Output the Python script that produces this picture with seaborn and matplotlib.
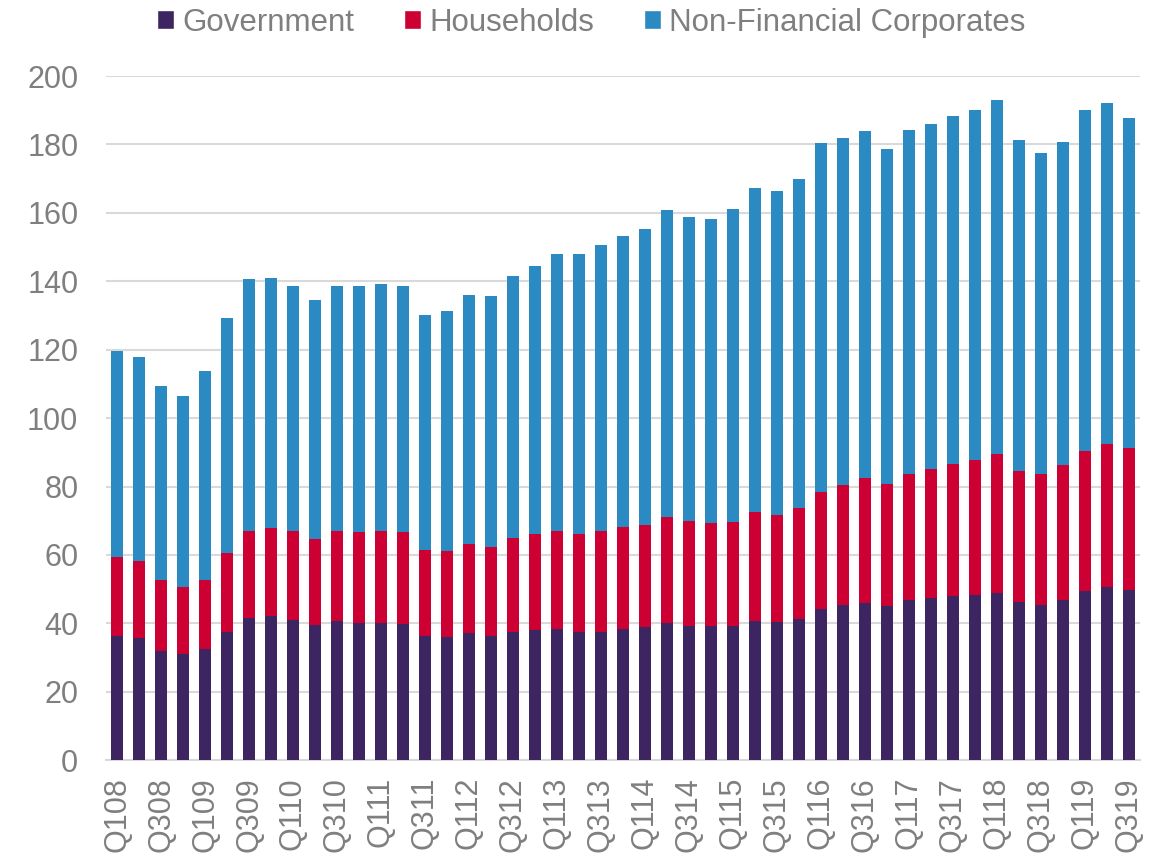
import numpy as np
import pandas as pd
import seaborn as sns
import matplotlib.pyplot as plt
from matplotlib.patches import Patch

# quarters Q1 2008 .. Q3 2019
quarters = [f'Q{q}{y:02d}' for y in range(8, 20) for q in range(1, 5)][:47]

government = [36.3, 35.7, 31.8, 31.0, 32.4, 37.5, 41.6, 42.1, 41.0, 39.5, 40.6, 40.1,
              40.1, 39.8, 36.3, 36.0, 37.2, 36.3, 37.6, 38.0, 38.3, 37.4, 37.6, 38.3,
              39.0, 40.1, 39.2, 39.1, 39.2, 40.6, 40.3, 41.2, 44.1, 45.3, 46.1, 45.0,
              46.7, 47.4, 47.9, 48.4, 48.9, 46.2, 45.3, 46.8, 49.4, 50.6, 49.7]
households = [23.0, 22.6, 20.8, 19.6, 20.2, 23.2, 25.4, 25.9, 25.9, 25.1, 26.5, 26.7,
              26.8, 26.8, 25.1, 25.3, 26.1, 26.1, 27.5, 28.1, 28.7, 28.7, 29.4, 29.8,
              29.8, 31.0, 30.7, 30.1, 30.4, 31.9, 31.4, 32.4, 34.3, 35.1, 36.4, 35.7,
              37.1, 37.7, 38.8, 39.5, 40.5, 38.4, 38.5, 39.4, 41.1, 41.8, 41.5]
non_financial = [60.2, 59.7, 56.9, 56.0, 61.1, 68.5, 73.6, 72.9, 71.7, 69.9, 71.5, 71.8,
                 72.3, 72.0, 68.8, 70.0, 72.7, 73.3, 76.4, 78.5, 81.0, 81.8, 83.6, 85.2,
                 86.6, 89.6, 88.9, 89.1, 91.6, 94.8, 94.7, 96.4, 101.9, 101.5, 101.4, 98.1,
                 100.5, 101.0, 101.5, 102.1, 103.5, 96.6, 93.7, 94.4, 99.7, 99.7, 96.4]

series = ['Government', 'Households', 'Non-Financial Corporates']
colors = ['#3C2560', '#CC0033', '#2B8AC1']

df = pd.DataFrame({'quarter': quarters, 'Government': government,
                   'Households': households, 'Non-Financial Corporates': non_financial})
# cumulative tops for stacking
df['top_gov'] = df['Government']
df['top_hh'] = df['top_gov'] + df['Households']
df['top_nfc'] = df['top_hh'] + df['Non-Financial Corporates']

sns.set_style('white')
plt.rcParams['font.family'] = ['Liberation Sans', 'DejaVu Sans']
grey = '#7F7F7F'

fig = plt.figure(figsize=(11.68, 8.59), dpi=100)
ax = fig.add_axes([0.0908, 0.115, 0.885, 0.7965])

for col, c in zip(['top_nfc', 'top_hh', 'top_gov'], colors[::-1]):
    sns.barplot(data=df, x='quarter', y=col, color=c, width=0.55,
                linewidth=0, saturation=1, ax=ax, zorder=3)

ax.set_ylim(0, 200)
ax.set_xlim(-0.5, len(quarters) - 0.5)
ax.set_yticks(range(0, 201, 20))
ax.set_xticks(range(0, len(quarters), 2))
ax.set_xticklabels(quarters[::2], rotation=90)
ax.tick_params(axis='both', labelsize=22, colors=grey, length=0)
ax.tick_params(axis='y', pad=20)
ax.tick_params(axis='x', pad=12)
ax.set_xlabel('')
ax.set_ylabel('')
ax.yaxis.grid(True, color='#D9D9D9', linewidth=1.5, zorder=0)
ax.set_axisbelow(True)
for s in ['top', 'right', 'left']:
    ax.spines[s].set_visible(False)
ax.spines['bottom'].set_color('#D9D9D9')
ax.spines['bottom'].set_linewidth(1.5)

handles = [Patch(facecolor=c, label=s) for s, c in zip(series, colors)]
fig.legend(handles=handles, loc='upper center', bbox_to_anchor=(0.506, 1.024), ncol=3,
           frameon=False, fontsize=22.5, labelcolor=grey, handlelength=0.55,
           handleheight=0.55, handletextpad=0.25, columnspacing=1.6)

fig.savefig('out.png', dpi=100)
